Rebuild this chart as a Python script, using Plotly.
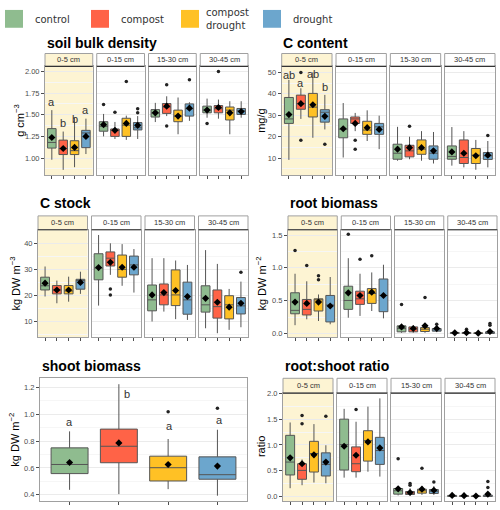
import plotly.graph_objects as go

W, H = 500, 510
FONT = "Liberation Sans, Arial, sans-serif"

treatments = ["control", "compost", "compost<br>drought", "drought"]
depths = ["0-5 cm", "0-15 cm", "15-30 cm", "30-45 cm"]
colors = ["#8FBC8F", "#FF6347", "#FFC125", "#6CA6CD"]

# ---------------- soil bulk density (rows: depth, cols: treatment) ----------------
bd_q1 = [[1.115, 1.04, 1.04, 1.12], [1.31, 1.25, 1.25, 1.325], [1.474, 1.516, 1.42, 1.485], [1.523, 1.523, 1.44, 1.504]]
bd_med = [[1.18, 1.11, 1.085, 1.29], [1.367, 1.32, 1.38, 1.35], [1.52, 1.59, 1.485, 1.57], [1.554, 1.57, 1.554, 1.546]]
bd_q3 = [[1.34, 1.207, 1.20, 1.32], [1.42, 1.336, 1.46, 1.41], [1.56, 1.63, 1.554, 1.626], [1.60, 1.607, 1.59, 1.573]]
bd_lo = [[0.98, 0.863, 0.894, 1.046], [1.25, 1.22, 1.21, 1.22], [1.416, 1.485, 1.275, 1.43], [1.466, 1.455, 1.275, 1.466]]
bd_hi = [[1.554, 1.306, 1.466, 1.455], [1.51, 1.417, 1.49, 1.485], [1.638, 1.714, 1.70, 1.645], [1.687, 1.676, 1.657, 1.657]]
bd_mean = [[1.237, 1.11, 1.123, 1.25], [1.386, 1.32, 1.40, 1.378], [1.523, 1.60, 1.485, 1.577], [1.554, 1.584, 1.523, 1.538]]
bd_out = [(1, 0, 1.62), (1, 1, 1.53), (1, 2, 1.886), (1, 3, 1.57), (1, 3, 1.523),
          (2, 1, 1.847), (2, 1, 1.37), (2, 3, 1.905), (3, 0, 1.40), (3, 1, 2.00)]
bd_letters = ["a", "b", "b", "a"]
bd_letter_x = [1, 2, 3, 4]
bd_letter_y = [1.65, 1.41, 1.45, 1.554]

# ---------------- C content ----------------
cc_q1 = [[26.2, 32.8, 29.2, 26.8], [19.5, 26.2, 21.1, 21.1], [9.5, 10.6, 11.8, 9.5], [9.5, 7.5, 7.5, 9.4]]
cc_med = [[28.3, 35.4, 33.8, 31.4], [23.5, 28.3, 23.1, 24.6], [12.3, 13.4, 14.2, 12.3], [10.8, 10.3, 11.4, 11.1]]
cc_q3 = [[38.3, 39.4, 40.2, 32.6], [28.3, 29.2, 27.2, 26.2], [16.5, 16.0, 18.5, 15.7], [15.7, 18.5, 14.5, 12.6]]
cc_lo = [[9.2, 28.3, 19.5, 23.4], [10.3, 22.6, 18.0, 14.2], [8.8, 9.5, 8.8, 7.5], [6.5, 5.7, 4.6, 5.7]]
cc_hi = [[46.5, 42.6, 50.0, 39.5], [35.7, 31.1, 32.3, 29.8], [24.6, 20.0, 22.6, 22.2], [24.5, 22.6, 18.5, 18.0]]
cc_mean = [[30.3, 35.4, 34.9, 29.5], [23.7, 26.2, 24.2, 23.4], [14.2, 14.9, 14.9, 13.4], [12.9, 12.3, 11.1, 11.4]]
cc_out = [(0, 1, 50.0), (0, 1, 18.3), (0, 3, 16.5), (1, 1, 18.3), (1, 1, 14.2), (2, 1, 24.9), (3, 3, 20.6)]
cc_letters = ["ab", "a", "ab", "b"]
cc_letter_x = [1, 2, 3, 4]
cc_letter_y = [48.8, 44.9, 49.2, 43.1]

# ---------------- C stock ----------------
cs_q1 = [[22.1, 20.6, 20.6, 22.4], [26.0, 31.3, 27.0, 27.9], [14.1, 16.4, 16.1, 12.8], [13.6, 11.3, 11.0, 12.9]]
cs_med = [[23.7, 22.1, 21.7, 25.7], [30.5, 34.3, 30.0, 31.7], [18.3, 20.2, 20.2, 18.3], [16.4, 15.7, 16.4, 16.0]]
cs_q3 = [[27.0, 23.8, 23.8, 26.2], [36.0, 36.7, 35.5, 35.1], [24.0, 24.4, 29.8, 25.1], [23.7, 22.1, 19.9, 19.2]]
cs_lo = [[19.6, 17.0, 17.6, 20.6], [16.1, 27.9, 23.7, 21.1], [10.0, 13.8, 10.9, 10.6], [7.4, 5.5, 6.8, 7.8]]
cs_hi = [[31.1, 25.7, 27.2, 29.1], [43.2, 40.0, 39.7, 37.8], [34.3, 34.3, 33.4, 31.7], [37.4, 32.1, 22.5, 25.3]]
cs_mean = [[24.7, 22.1, 22.1, 25.0], [30.7, 32.7, 30.8, 30.8], [20.2, 21.1, 21.9, 19.6], [18.9, 17.4, 15.5, 17.0]]
cs_out = [(1, 1, 22.5), (1, 1, 20.2), (3, 3, 28.9)]

# ---------------- root biomass ----------------
rb_q1 = [[0.30, 0.282, 0.342, 0.176], [0.367, 0.443, 0.458, 0.332], [0.025, 0.025, 0.03, 0.035], [0.0, 0.0, 0.0, 0.0]]
rb_med = [[0.352, 0.367, 0.518, 0.433], [0.503, 0.528, 0.609, 0.579], [0.075, 0.065, 0.065, 0.055], [0.005, 0.005, 0.003, 0.008]]
rb_q3 = [[0.62, 0.518, 0.528, 0.579], [0.72, 0.644, 0.684, 0.83], [0.116, 0.10, 0.09, 0.075], [0.015, 0.015, 0.01, 0.025]]
rb_lo = [[0.126, 0.216, 0.19, 0.14], [0.24, 0.267, 0.342, 0.23], [0.01, 0.01, 0.01, 0.02], [0.0, 0.0, 0.0, 0.0]]
rb_hi = [[0.91, 0.795, 0.594, 0.86], [1.147, 0.91, 0.93, 1.047], [0.13, 0.126, 0.126, 0.12], [0.03, 0.03, 0.02, 0.05]]
rb_mean = [[0.478, 0.458, 0.478, 0.418], [0.619, 0.579, 0.629, 0.579], [0.10, 0.075, 0.116, 0.075], [0.01, 0.012, 0.005, 0.03]]
rb_out = [(0, 0, 1.263), (0, 1, 1.037), (0, 2, 0.88), (0, 2, 0.82), (1, 0, 1.51), (1, 1, 1.132), (1, 2, 1.183),
          (2, 0, 0.443), (2, 2, 0.548), (2, 3, 0.14), (3, 1, 0.065), (3, 3, 0.126), (3, 3, 0.15)]

# ---------------- shoot biomass (one panel) ----------------
sb_q1 = [0.558, 0.639, 0.503, 0.516]
sb_med = [0.626, 0.762, 0.602, 0.55]
sb_q3 = [0.75, 0.89, 0.688, 0.683]
sb_lo = [0.437, 0.405, 0.442, 0.393]
sb_hi = [0.873, 1.225, 0.816, 0.885]
sb_mean = [0.641, 0.787, 0.626, 0.614]
sb_out = [(0, 2, 1.02), (0, 3, 1.045)]
sb_letters = ["a", "b", "a", "a"]
sb_letter_x = [1, 2.17, 3.03, 4.05]
sb_letter_y = [0.946, 1.15, 0.91, 0.958]

# ---------------- root:shoot ratio ----------------
rs_q1 = [[0.417, 0.333, 0.474, 0.397], [0.513, 0.48, 0.686, 0.622], [0.045, 0.038, 0.064, 0.058], [0.0, 0.0, 0.0, 0.0]]
rs_med = [[0.667, 0.506, 0.833, 0.622], [1.006, 0.635, 1.083, 0.891], [0.11, 0.064, 0.11, 0.10], [0.005, 0.005, 0.003, 0.008]]
rs_q3 = [[1.186, 0.635, 1.07, 0.846], [1.5, 0.962, 1.276, 1.147], [0.154, 0.096, 0.141, 0.135], [0.02, 0.015, 0.01, 0.025]]
rs_lo = [[0.16, 0.218, 0.27, 0.256], [0.365, 0.365, 0.48, 0.385], [0.02, 0.02, 0.03, 0.03], [0.0, 0.0, 0.0, 0.0]]
rs_hi = [[1.436, 0.718, 1.404, 0.994], [1.70, 1.45, 1.744, 1.904], [0.16, 0.16, 0.2, 0.2], [0.06, 0.05, 0.03, 0.06]]
rs_mean = [[0.75, 0.635, 0.808, 0.667], [0.974, 0.80, 1.058, 0.942], [0.147, 0.077, 0.141, 0.12], [0.02, 0.015, 0.008, 0.045]]
rs_out = [(0, 1, 1.57), (0, 1, 1.41), (0, 3, 1.558), (1, 1, 1.69), (2, 0, 0.73), (2, 1, 0.25), (2, 1, 0.218),
          (2, 2, 0.545), (2, 3, 0.28), (3, 3, 0.288), (3, 3, 0.173)]

fig = go.Figure()
layout = {}
shapes = []
annotations = []
counter = [0]


def px(x):
    return x / W


def py(y):
    return 1 - y / H


def add_facet(x0, x1, y0, y1, yr_, dtick, fmt, minor, first, q1, med, q3, lo, hi, mean, outs,
              letters=None, letter_x=None, letter_y=None, highlight=False):
    counter[0] += 1
    k = counter[0]
    xa = "xaxis" if k == 1 else f"xaxis{k}"
    ya = "yaxis" if k == 1 else f"yaxis{k}"
    xr = "x" if k == 1 else f"x{k}"
    yr = "y" if k == 1 else f"y{k}"
    layout[xa] = dict(domain=[px(x0), px(x1)], anchor=yr, range=[0.4, 4.6], tickvals=[1, 2, 3, 4],
                      ticks="outside", ticklen=3, tickcolor="#4d4d4d", showticklabels=False,
                      showgrid=False, zeroline=False, showline=True, mirror=True,
                      linecolor="#a0a0a0", linewidth=1, fixedrange=True)
    layout[ya] = dict(domain=[py(y1), py(y0)], anchor=xr, range=yr_, tick0=0, dtick=dtick, tickformat=fmt,
                      ticks="outside" if first else "", ticklen=3, tickcolor="#4d4d4d",
                      showticklabels=first, tickfont=dict(size=7.5, color="#4d4d4d", family=FONT),
                      showgrid=True, gridcolor="#EBEBEB", gridwidth=1, zeroline=False,
                      showline=True, mirror=True, linecolor="#a0a0a0", linewidth=1, fixedrange=True,
                      minor=dict(dtick=minor, tick0=0, showgrid=True, gridcolor="#F6F6F6", ticks=""))
    if highlight:
        shapes.append(dict(type="rect", xref=f"{xr} domain", yref=f"{yr} domain", x0=0, x1=1, y0=0, y1=1,
                           fillcolor="#FDF4D3", line=dict(width=0), layer="below"))
    for j in range(4):
        fig.add_trace(go.Box(x=[j + 1], q1=[q1[j]], median=[med[j]], q3=[q3[j]],
                             lowerfence=[lo[j]], upperfence=[hi[j]], width=0.75, whiskerwidth=0,
                             fillcolor=colors[j], line=dict(color="#555555", width=1),
                             boxpoints=False, xaxis=xr, yaxis=yr, showlegend=False, hoverinfo="skip"))
    if outs:
        fig.add_trace(go.Scatter(x=[j + 1 for j, v in outs], y=[v for j, v in outs], mode="markers",
                                 marker=dict(symbol="circle", size=3.5, color="#222222"),
                                 xaxis=xr, yaxis=yr, showlegend=False, hoverinfo="skip"))
    fig.add_trace(go.Scatter(x=[1, 2, 3, 4], y=mean, mode="markers",
                             marker=dict(symbol="diamond", size=5.5, color="black"),
                             xaxis=xr, yaxis=yr, showlegend=False, hoverinfo="skip"))
    if letters:
        for j in range(4):
            annotations.append(dict(x=letter_x[j], y=letter_y[j], xref=xr, yref=yr, text=letters[j],
                                    showarrow=False, font=dict(size=11, color="#333333", family=FONT)))


def add_strip(x0, x1, ys0, ys1, text, highlight):
    shapes.append(dict(type="rect", xref="paper", yref="paper", x0=px(x0), x1=px(x1), y0=py(ys1), y1=py(ys0),
                       fillcolor="#FDF4D3" if highlight else "white", line=dict(color="#a0a0a0", width=1)))
    shapes.append(dict(type="line", xref="paper", yref="paper", x0=px(x0), x1=px(x1), y0=py(ys1), y1=py(ys1),
                       line=dict(color="#333333", width=1.2)))
    annotations.append(dict(x=px((x0 + x1) / 2), y=py((ys0 + ys1) / 2), xref="paper", yref="paper",
                            text=text, showarrow=False, xanchor="center", yanchor="middle",
                            font=dict(size=7.5, color="#333333", family=FONT)))


def add_panel(title, tx, ty, ylabel, lx, x0, x1, strip, plot, yr_, dtick, fmt, minor, data,
              letters=None, letter_x=None, letter_y=None):
    q1, med, q3, lo, hi, mean, outs = data
    annotations.append(dict(x=px(tx), y=py(ty), xref="paper", yref="paper", text=f"<b>{title}</b>",
                            showarrow=False, xanchor="left", yanchor="middle",
                            font=dict(size=14, color="black", family=FONT)))
    annotations.append(dict(x=px(lx), y=py((plot[0] + plot[1]) / 2), xref="paper", yref="paper", text=ylabel,
                            showarrow=False, textangle=-90, xanchor="center", yanchor="middle",
                            font=dict(size=11, color="black", family=FONT)))
    gap = 4
    fw = (x1 - x0 - 3 * gap) / 4
    for d in range(4):
        fx0 = x0 + d * (fw + gap)
        fx1 = fx0 + fw
        add_facet(fx0, fx1, plot[0], plot[1], yr_, dtick, fmt, minor, d == 0,
                  q1[d], med[d], q3[d], lo[d], hi[d], mean[d], [(t, v) for (dd, t, v) in outs if dd == d],
                  letters if d == 0 else None, letter_x, letter_y, highlight=(d == 0))
        add_strip(fx0, fx1, strip[0], strip[1], depths[d], d == 0)


add_panel("soil bulk density", 45, 39, "g cm<sup>−3</sup>", 19, 45, 248, (50, 63), (63, 173),
          [0.80, 2.06], 0.25, ".2f", 0.125, (bd_q1, bd_med, bd_q3, bd_lo, bd_hi, bd_mean, bd_out),
          bd_letters, bd_letter_x, bd_letter_y)
add_panel("C content", 281, 39, "mg/g", 261, 281.7, 495, (50, 63), (63, 173),
          [2.0, 52.8], 10, "d", 5, (cc_q1, cc_med, cc_q3, cc_lo, cc_hi, cc_mean, cc_out),
          cc_letters, cc_letter_x, cc_letter_y)
add_panel("C stock", 38, 201, "kg DW m<sup>−3</sup>", 15, 38, 248, (214, 228), (228, 336.7),
          [3.9, 45.2], 10, "d", 5, (cs_q1, cs_med, cs_q3, cs_lo, cs_hi, cs_mean, cs_out))
add_panel("root biomass", 288, 201, "kg DW m<sup>−2</sup>", 261, 288, 497, (214, 228), (228, 336.7),
          [-0.06, 1.58], 0.5, ".1f", 0.25, (rb_q1, rb_med, rb_q3, rb_lo, rb_hi, rb_mean, rb_out))
add_panel("root:shoot ratio", 283, 366, "ratio", 261, 283, 495, (378, 393), (393, 502),
          [-0.09, 2.005], 0.5, ".1f", 0.25, (rs_q1, rs_med, rs_q3, rs_lo, rs_hi, rs_mean, rs_out))

# shoot biomass: single panel, no strip
annotations.append(dict(x=px(40), y=py(366), xref="paper", yref="paper", text="<b>shoot biomass</b>",
                        showarrow=False, xanchor="left", yanchor="middle",
                        font=dict(size=14, color="black", family=FONT)))
annotations.append(dict(x=px(14), y=py(440), xref="paper", yref="paper", text="kg DW m<sup>−2</sup>",
                        showarrow=False, textangle=-90, xanchor="center", yanchor="middle",
                        font=dict(size=11, color="black", family=FONT)))
add_facet(40, 247, 378, 502, [0.353, 1.269], 0.2, ".1f", 0.1, True,
          sb_q1, sb_med, sb_q3, sb_lo, sb_hi, sb_mean, [(t, v) for (dd, t, v) in sb_out],
          sb_letters, sb_letter_x, sb_letter_y, highlight=False)

# legend
leg_x = [5, 91, 181, 263]
for i, name in enumerate(treatments):
    shapes.append(dict(type="rect", xref="paper", yref="paper", x0=px(leg_x[i]), x1=px(leg_x[i] + 18),
                       y0=py(24), y1=py(6), fillcolor=colors[i], line=dict(width=0)))
    annotations.append(dict(x=px(leg_x[i] + 23 + (0 if i == 2 else 5)), y=py(15.5), xref="paper", yref="paper",
                            text=name, showarrow=False, xanchor="left", yanchor="middle", align="left",
                            font=dict(size=10, color="#333333", family="DejaVu Sans")))

fig.update_layout(**layout)
fig.update_layout(width=W, height=H, margin=dict(l=0, r=0, t=0, b=0), autosize=False,
                  plot_bgcolor="white", paper_bgcolor="white", showlegend=False,
                  shapes=shapes, annotations=annotations, font=dict(family=FONT))
fig.write_html("out.html", config={"displayModeBar": False},
               post_script="document.body.style.margin='0';document.body.style.overflow='hidden';")
